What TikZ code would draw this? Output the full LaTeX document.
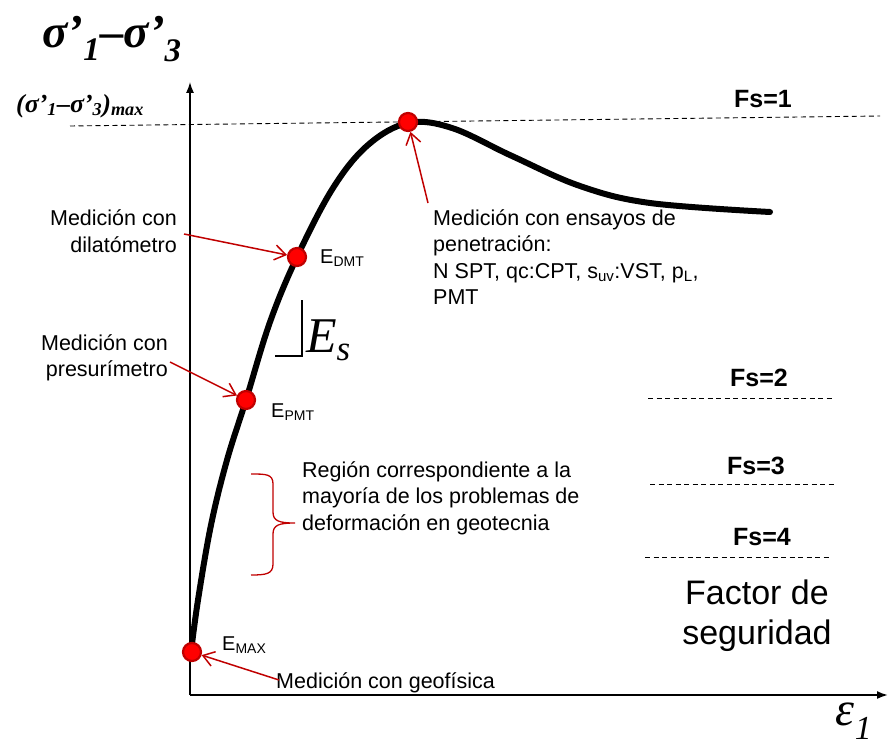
\documentclass[tikz,border=0pt]{standalone}
\usepackage{fontspec}
\setmainfont{Liberation Sans}
\newfontfamily\timesfont{Liberation Serif}
\usetikzlibrary{arrows.meta}

\definecolor{dotred}{HTML}{FF0000}
\definecolor{dotrim}{HTML}{C00000}
\definecolor{arrred}{HTML}{C00000}

\begin{document}
\begin{tikzpicture}[
    x=1pt, y=-1pt,
    >=Latex,
    dot/.style={circle, fill=dotred, draw=dotrim, line width=2.2pt, minimum size=18pt, inner sep=0pt},
    lbl/.style={font=\fontsize{21.5}{26.5}\selectfont, inner sep=0pt, align=left},
    elbl/.style={font=\fontsize{20}{24}\selectfont, inner sep=0pt, anchor=west},
    fslbl/.style={font=\fontsize{25}{28}\selectfont\bfseries, inner sep=0pt},
    fsline/.style={dash pattern=on 5pt off 3.5pt, line width=0.9pt},
    pointer/.style={-{Straight Barb[length=11pt,width=15pt]}, arrred, line width=1.5pt},
    curve/.style={line width=6pt, line cap=round},
    bigmath/.style={font=\timesfont\fontsize{47}{47}\selectfont\bfseries\itshape, inner sep=0pt}
]
    \useasboundingbox (0,0) rectangle (888,749);

    % axes
    \coordinate (O) at (190,695);
    \coordinate (ytop) at (190,82);
    \coordinate (xend) at (888,695);
    \draw[line width=1.3pt, -{Latex[length=11pt,width=8pt]}] (O) -- (ytop);
    \draw[line width=1.8pt, -{Latex[length=11pt,width=8pt]}] (O) -- (xend);

    % peak level
    \coordinate (pk1) at (70,126);
    \coordinate (pk2) at (880,116);
    \draw[fsline] (pk1) -- (pk2);

    % stress-strain curve
    \draw[curve] plot[smooth, tension=0.6] coordinates {
        (191,652) (198,600) (211,525) (227,460) (246,400) (270,322)
        (297,257) (333,188) (368,145) (408,123) (452,128) (512,156)
        (580,186) (650,203) (770,212)};

    % measurement points
    \node[dot] (peak) at (408,122) {};
    \node[dot] (dmt) at (297,257) {};
    \node[dot] (pmt) at (246,400) {};
    \node[dot] (emax) at (192,652) {};

    \node[elbl] (ldmt) at (320,258) {E\textsubscript{DMT}};
    \node[elbl] (lpmt) at (271,412) {E\textsubscript{PMT}};
    \node[elbl] (lmax) at (222,645) {E\textsubscript{MAX}};

    % titles
    \node[bigmath] (ttl) at (112,39) {σ’\textsubscript{1}–σ’\textsubscript{3}};
    \node[font=\timesfont\fontsize{26}{26}\selectfont\bfseries\itshape, inner sep=0pt] (smax) at (80,106) {(σ’\textsubscript{1}–σ’\textsubscript{3})\textsubscript{max}};
    \node[font=\timesfont\fontsize{48}{48}\selectfont\itshape, inner sep=0pt] (eps) at (854,721) {ε\textsubscript{1}};

    % slope mark
    \coordinate (s1) at (275,356);
    \coordinate (s2) at (302,356);
    \coordinate (s3) at (302,300);
    \draw[line width=1.1pt] (s1) -- (s2) -- (s3);
    \node[font=\timesfont\fontsize{50}{50}\selectfont\itshape, inner sep=0pt, anchor=west] (es) at (306,340) {E\textsubscript{s}};

    % annotations
    \node[lbl, align=right, anchor=east] (tdil) at (177,231) {Medición con\\dilatómetro};
    \node[lbl, align=right, anchor=east] (tpres) at (168,358) {Medición con\\presurímetro};
    \node[lbl, anchor=north west] (tpen) at (433,209) {Medición con ensayos de\\penetración:\\N SPT, qc:CPT, s\textsubscript{uv}:VST, p\textsubscript{L},\\PMT};
    \node[lbl, anchor=west] (treg) at (302,498) {Región correspondiente a la\\mayoría de los problemas de\\deformación en geotecnia};
    \node[lbl, anchor=west] (tgeo) at (276,683) {Medición con geofísica};

    \coordinate (adil) at (184,234);
    \coordinate (apres) at (170,362);
    \coordinate (apen) at (428,203);
    \coordinate (ageo) at (279,680);
    \draw[pointer] (adil) -- (dmt);
    \draw[pointer] (apres) -- (pmt);
    \draw[pointer] (apen) -- (peak);
    \draw[pointer] (ageo) -- (emax);

    % brace
    \coordinate (b1) at (251,474);
    \coordinate (btip) at (295,523);
    \coordinate (b2) at (251,575);
    \draw[arrred, line width=1.3pt] (b1) .. controls (266,474) and (273,474) .. (273,484)
        -- (273,512) .. controls (273,521) and (279,523) .. (btip)
        .. controls (279,523) and (273,525) .. (273,534)
        -- (273,564) .. controls (273,574) and (266,575) .. (b2);

    % safety factors
    \node[fslbl] (fs1) at (763,99) {Fs=1};
    \node[fslbl] (fs2) at (759,378) {Fs=2};
    \node[fslbl] (fs3) at (756,466) {Fs=3};
    \node[fslbl] (fs4) at (762,537) {Fs=4};
    \coordinate (f2a) at (648,398);
    \coordinate (f2b) at (834,398);
    \coordinate (f3a) at (650,484);
    \coordinate (f3b) at (835,484);
    \coordinate (f4a) at (645,557);
    \coordinate (f4b) at (830,557);
    \draw[fsline] (f2a) -- (f2b);
    \draw[fsline] (f3a) -- (f3b);
    \draw[fsline] (f4a) -- (f4b);
    \node[font=\fontsize{34}{40}\selectfont, inner sep=0pt, align=center] (fsfac) at (757,616) {Factor de\\seguridad};
\end{tikzpicture}
\end{document}
